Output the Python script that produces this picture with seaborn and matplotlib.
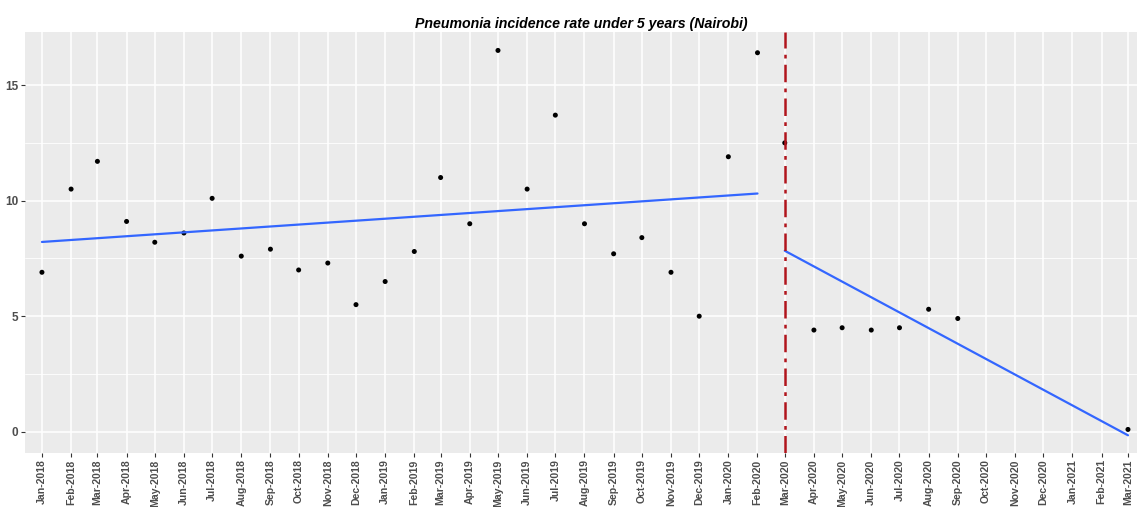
import numpy as np
import pandas as pd
import matplotlib
matplotlib.use("Agg")
import matplotlib.pyplot as plt
import matplotlib.dates as mdates
import seaborn as sns

# ---------------- data ----------------
month_start = "2018-01-01"
month_end = "2021-03-01"
intervention = "2020-03-01"
incidence = [6.9, 10.5, 11.7, 9.1, 8.2, 8.6, 10.1, 7.6, 7.9, 7.0, 7.3, 5.5,
             6.5, 7.8, 11.0, 9.0, 16.5, 10.5, 13.7, 9.0, 7.7, 8.4, 6.9, 5.0,
             11.9, 16.4, 12.5, 4.4, 4.5, 4.4, 4.5, 5.3, 4.9,
             np.nan, np.nan, np.nan, np.nan, np.nan, 0.1]
y_ticks = [0, 5, 10, 15]
title = "Pneumonia incidence rate under 5 years (Nairobi)"

months = pd.date_range(month_start, month_end, freq="MS")
df = pd.DataFrame({"month": months, "rate": incidence})
df["x"] = mdates.date2num(df["month"])
cut = pd.Timestamp(intervention)
df["period"] = np.where(df["month"] < cut, "pre", "post")

# ---------------- style ----------------
sns.set_theme(style="darkgrid", rc={
    "axes.facecolor": "#EBEBEB",
    "grid.color": "white",
    "axes.edgecolor": "none",
})
plt.rcParams["font.family"] = ["Liberation Sans", "DejaVu Sans"]

fig = plt.figure(figsize=(11.37, 5.07), dpi=100)
ax = fig.add_axes([0.022, 0.1065, 0.978, 0.8305])

sns.scatterplot(data=df.dropna(), x="x", y="rate", color="black", s=13,
                edgecolor="none", ax=ax, zorder=3)
for p in ["pre", "post"]:
    sub = df[(df["period"] == p)].dropna()
    sns.regplot(data=sub, x="x", y="rate", scatter=False, ci=None,
                color="#3366FF", line_kws={"lw": 1.6, "zorder": 4}, ax=ax)

ax.axvline(mdates.date2num(cut), color="#B0141C", lw=1.8,
           ls=(0, (7, 2.5, 1.5, 2.5)), zorder=5)

# axes
x0 = mdates.date2num(pd.Timestamp(month_start) - pd.Timedelta(days=18))
x1 = mdates.date2num(pd.Timestamp(month_end) + pd.Timedelta(days=9.6))
ax.set_xlim(x0, x1)
ax.set_ylim(-0.92, 17.3)
ax.set_xticks(df["x"])
ax.set_xticklabels([m.strftime("%b-%Y") for m in months], rotation=90,
                   fontsize=7.6, color="#4D4D4D", fontweight="bold")
ax.set_yticks(y_ticks)
ax.set_yticklabels([str(t) for t in y_ticks], fontsize=8.5, color="#4D4D4D",
                   fontweight="bold")
ax.set_yticks([2.5, 7.5, 12.5], minor=True)
ax.grid(which="major", color="white", lw=1.1)
ax.grid(which="minor", axis="y", color="white", lw=0.6)
ax.tick_params(axis="both", which="major", length=3, width=0.8,
               color="#333333", pad=2, bottom=True, left=True)
ax.tick_params(axis="x", which="major", pad=1.5)
ax.tick_params(axis="both", which="minor", length=0)
ax.set_xlabel("")
ax.set_ylabel("")
for s in ax.spines.values():
    s.set_visible(False)

ax.set_title(title, fontsize=10.2, fontweight="bold", fontstyle="italic",
             color="black", pad=3)

fig.savefig("out.png", dpi=100)
